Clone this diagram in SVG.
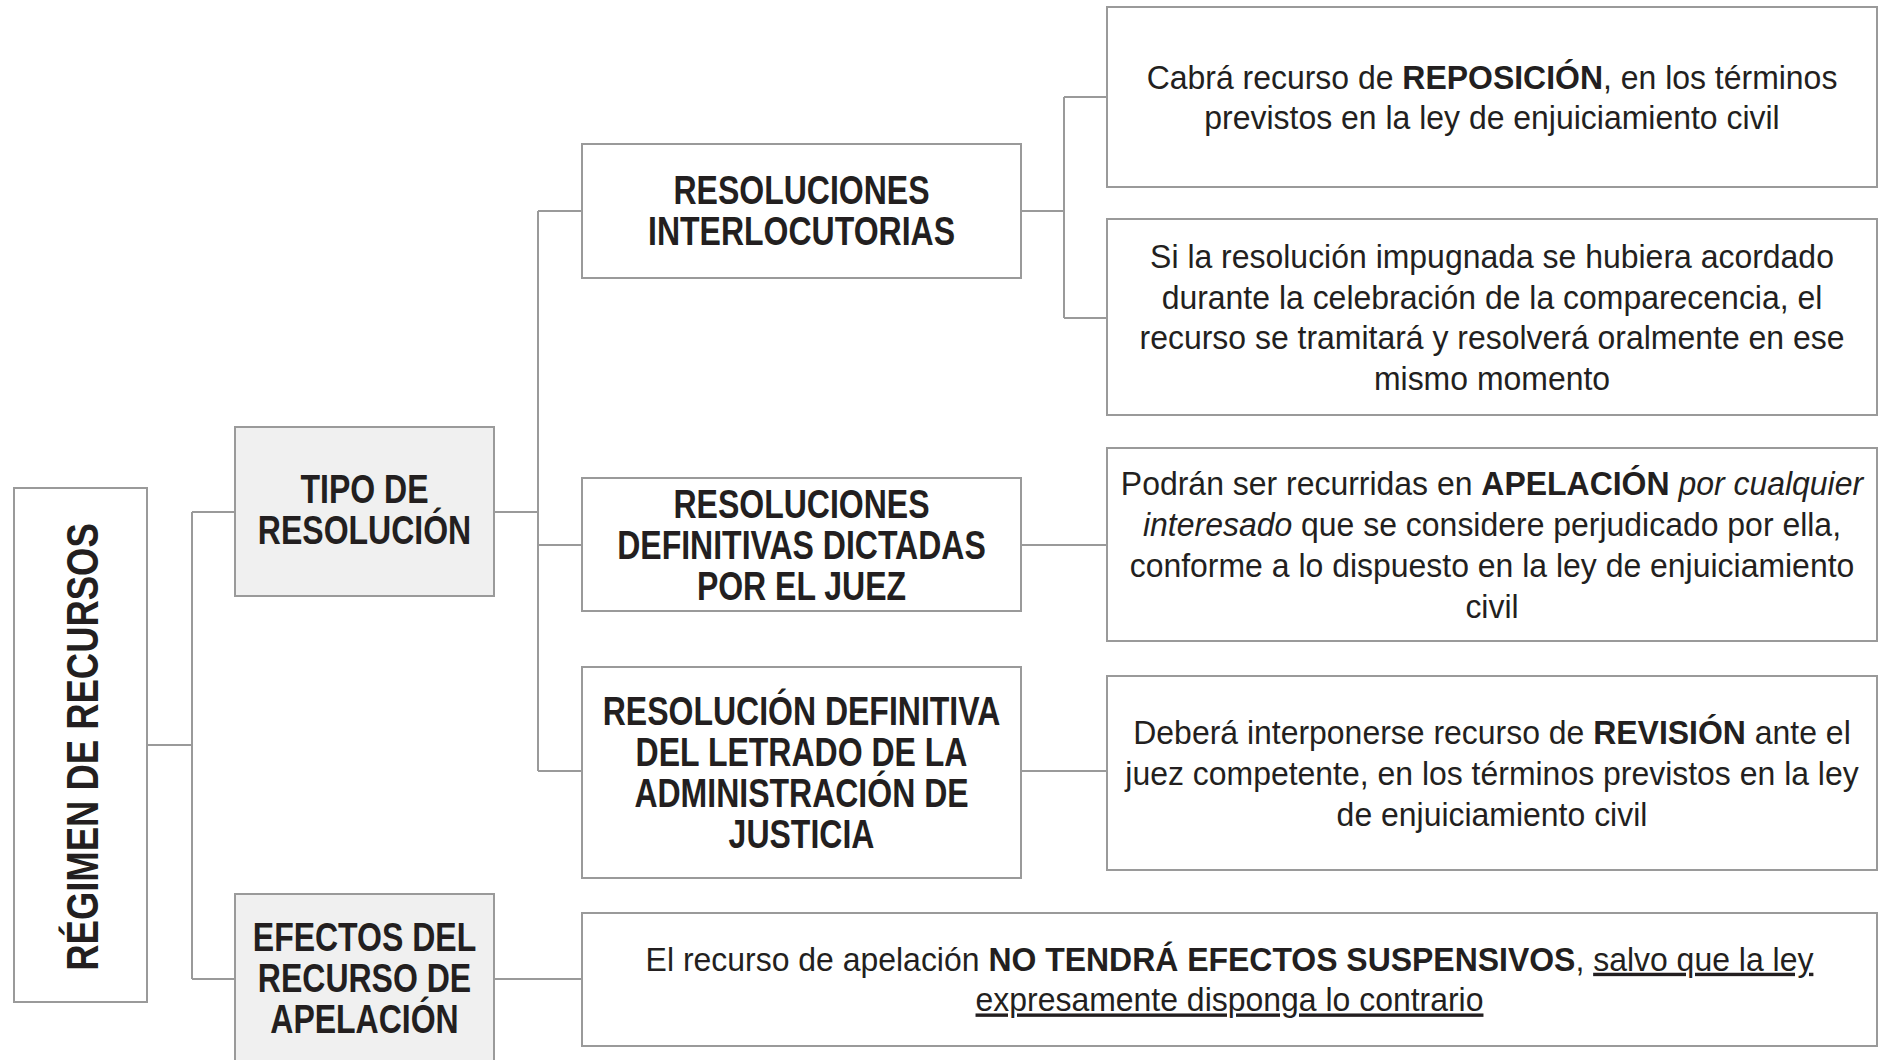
<svg xmlns="http://www.w3.org/2000/svg" width="1879" height="1060" viewBox="0 0 1879 1060">
<style>
.box{fill:#ffffff;stroke:#9a9a9a;stroke-width:2}
.gray{fill:#f0f0f0;stroke:#9a9a9a;stroke-width:2}
.con{fill:none;stroke:#9a9a9a;stroke-width:2}
.t{font-family:"Liberation Sans",Arial,sans-serif;font-size:40px;font-weight:bold;fill:#231f20;text-anchor:middle}
.v{font-family:"Liberation Sans",Arial,sans-serif;font-size:45px;font-weight:bold;fill:#231f20;text-anchor:middle}
.b{font-family:"Liberation Sans",Arial,sans-serif;font-size:34px;fill:#231f20;text-anchor:middle}
.bo{font-weight:bold}
.it{font-style:italic}
.ul{text-decoration:underline}
</style>
<rect width="1879" height="1060" fill="#ffffff"/>
<g id="connectors">
<path class="con" d="M147,745 H192 M192,512 V979 M192,512 H235 M192,979 H235"/>
<path class="con" d="M494,512 H538 M538,211 V771 M538,211 H582 M538,545 H582 M538,771 H582"/>
<path class="con" d="M1021,211 H1064 M1064,97 V318 M1064,97 H1107 M1064,318 H1107"/>
<path class="con" d="M1021,545 H1107 M1021,771 H1107 M494,979 H582"/>
</g>
<g id="regimen">
<rect class="box" x="14" y="488" width="133" height="514"/>
<g transform="translate(98,747) rotate(-90) scale(0.81,1)"><text class="v" x="0" y="0">RÉGIMEN DE RECURSOS</text></g>
</g>
<g id="tipo">
<rect class="gray" x="235" y="427" width="259" height="169"/>
<g transform="translate(364.5,0) scale(0.8,1)"><text class="t"><tspan x="0" y="503">TIPO DE</tspan><tspan x="0" y="544">RESOLUCIÓN</tspan></text></g>
</g>
<g id="efectos">
<rect class="gray" x="235" y="894" width="259" height="170"/>
<g transform="translate(364.5,0) scale(0.8,1)"><text class="t"><tspan x="0" y="951.5">EFECTOS DEL</tspan><tspan x="0" y="992.5">RECURSO DE</tspan><tspan x="0" y="1033.5">APELACIÓN</tspan></text></g>
</g>
<g id="interlocutorias">
<rect class="box" x="582" y="144" width="439" height="134"/>
<g transform="translate(801.5,0) scale(0.8,1)"><text class="t"><tspan x="0" y="204">RESOLUCIONES</tspan><tspan x="0" y="245">INTERLOCUTORIAS</tspan></text></g>
</g>
<g id="definitivas">
<rect class="box" x="582" y="478" width="439" height="133"/>
<g transform="translate(801.5,0) scale(0.8,1)"><text class="t"><tspan x="0" y="518">RESOLUCIONES</tspan><tspan x="0" y="559">DEFINITIVAS DICTADAS</tspan><tspan x="0" y="600">POR EL JUEZ</tspan></text></g>
</g>
<g id="letrado">
<rect class="box" x="582" y="667" width="439" height="211"/>
<g transform="translate(801.5,0) scale(0.8,1)"><text class="t"><tspan x="0" y="725.5">RESOLUCIÓN DEFINITIVA</tspan><tspan x="0" y="766.5">DEL LETRADO DE LA</tspan><tspan x="0" y="807.5">ADMINISTRACIÓN DE</tspan><tspan x="0" y="848.5">JUSTICIA</tspan></text></g>
</g>
<g id="reposicion">
<rect class="box" x="1107" y="7" width="770" height="180"/>
<g transform="translate(1492,0) scale(0.94,1)"><text class="b"><tspan x="0" y="88.7">Cabrá recurso de <tspan class="bo">REPOSICIÓN</tspan>, en los términos</tspan><tspan x="0" y="129.3">previstos en la ley de enjuiciamiento civil</tspan></text></g>
</g>
<g id="comparecencia">
<rect class="box" x="1107" y="219" width="770" height="196"/>
<g transform="translate(1492,0) scale(0.94,1)"><text class="b"><tspan x="0" y="268">Si la resolución impugnada se hubiera acordado</tspan><tspan x="0" y="308.7">durante la celebración de la comparecencia, el</tspan><tspan x="0" y="349.4">recurso se tramitará y resolverá oralmente en ese</tspan><tspan x="0" y="390">mismo momento</tspan></text></g>
</g>
<g id="apelacion">
<rect class="box" x="1107" y="448" width="770" height="193"/>
<g transform="translate(1492,0) scale(0.94,1)"><text class="b"><tspan x="0" y="495.5">Podrán ser recurridas en <tspan class="bo">APELACIÓN</tspan> <tspan class="it">por cualquier</tspan></tspan><tspan x="0" y="536.2"><tspan class="it">interesado</tspan> que se considere perjudicado por ella,</tspan><tspan x="0" y="577">conforme a lo dispuesto en la ley de enjuiciamiento</tspan><tspan x="0" y="617.6">civil</tspan></text></g>
</g>
<g id="revision">
<rect class="box" x="1107" y="676" width="770" height="194"/>
<g transform="translate(1492,0) scale(0.94,1)"><text class="b"><tspan x="0" y="744.3">Deberá interponerse recurso de <tspan class="bo">REVISIÓN</tspan> ante el</tspan><tspan x="0" y="785">juez competente, en los términos previstos en la ley</tspan><tspan x="0" y="825.7">de enjuiciamiento civil</tspan></text></g>
</g>
<g id="suspensivos">
<rect class="box" x="582" y="913" width="1295" height="133"/>
<g transform="translate(1229.5,0) scale(0.94,1)"><text class="b"><tspan x="0" y="970.7">El recurso de apelación <tspan class="bo">NO TENDRÁ EFECTOS SUSPENSIVOS</tspan>, <tspan class="ul">salvo que la ley</tspan></tspan><tspan x="0" y="1011.4"><tspan class="ul">expresamente disponga lo contrario</tspan></tspan></text></g>
</g>
</svg>
